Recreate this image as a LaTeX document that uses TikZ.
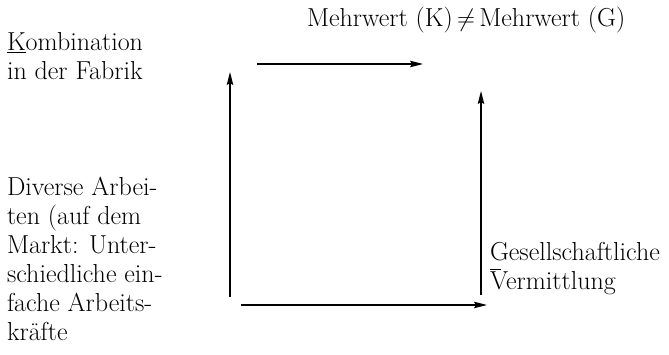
\documentclass[tikz,border=0pt]{standalone}
\usetikzlibrary{arrows.meta}
\tikzset{
  lbl/.style={inner sep=0pt, outer sep=0pt, align=left, anchor=base west,
    font=\fontsize{26}{29}\selectfont},
  flow/.style={line width=1.5pt, -{Stealth[length=13pt,width=6.5pt,inset=2pt]}}
}
\begin{document}
\begin{tikzpicture}[x=1pt,y=-1pt]
\useasboundingbox (0,0) rectangle (669,355);
% texts (multi-line nodes: base anchor = baseline of last line)
\node[lbl] (mw) at (307,27) {Mehrwert (K)\,$\neq$\,Mehrwert (G)};
\node[lbl] (kom) at (7,80) {\underline{K}ombination\\in der Fabrik};
\node[lbl] (div) at (7,340) {Diverse Arbei-\\ten (auf dem\\Markt: Unter-\\schiedliche ein-\\fache Arbeits-\\kräfte};
\node[lbl] (ges) at (490,290) {Gesellschaftliche\\\rlap{\rule[20pt]{11pt}{0.8pt}}Vermittlung};
% arrow end points
\coordinate (lb) at (230,297);
\coordinate (lt) at (230,72);
\coordinate (ts) at (257,64);
\coordinate (te) at (423,64);
\coordinate (rb) at (481,295);
\coordinate (rt) at (481,91);
\coordinate (bs) at (241,305);
\coordinate (be) at (487,305);
% arrows
\draw[flow] (lb) -- (lt);
\draw[flow, line width=1.1pt] (ts) -- (te);
\draw[flow] (rb) -- (rt);
\draw[flow] (bs) -- (be);
\end{tikzpicture}
\end{document}
